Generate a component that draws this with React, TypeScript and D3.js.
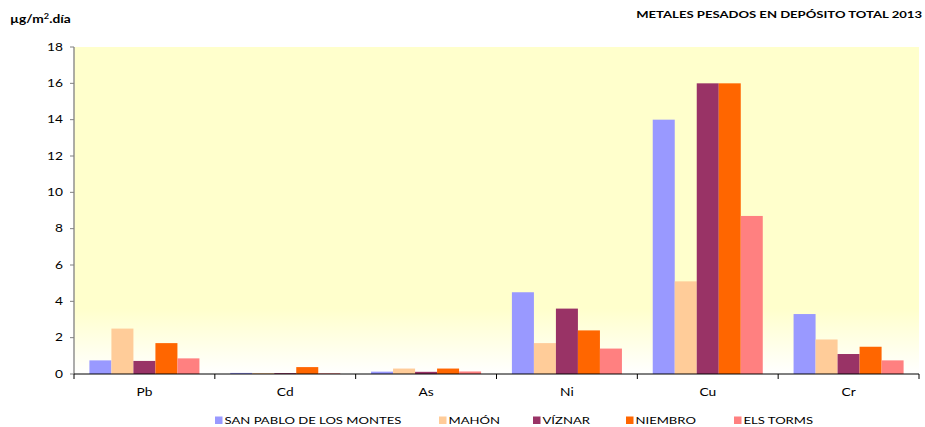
import React from "react";
import * as d3 from "d3";

const categories = ["Pb", "Cd", "As", "Ni", "Cu", "Cr"];
const seriesNames = ["SAN PABLO DE LOS MONTES", "MAHÓN", "VÍZNAR", "NIEMBRO", "ELS TORMS"];
const sanPablo = [0.75, 0.06, 0.13, 4.5, 14.0, 3.3];
const mahon = [2.5, 0.05, 0.3, 1.7, 5.1, 1.9];
const viznar = [0.72, 0.05, 0.12, 3.6, 16.0, 1.1];
const niembro = [1.7, 0.38, 0.3, 2.4, 16.0, 1.5];
const elsTorms = [0.86, 0.04, 0.14, 1.4, 8.7, 0.75];
const yTicks = [0, 2, 4, 6, 8, 10, 12, 14, 16, 18];
const colors = ["#9999FF", "#FFCC99", "#993366", "#FF6600", "#FF8080"];
const title = "METALES PESADOS EN DEPÓSITO TOTAL 2013";

const series = [sanPablo, mahon, viznar, niembro, elsTorms];

const W = 925;
const H = 427;
const left = 74;
const right = 919;
const top = 47;
const bottom = 374;
const font = "Lato, 'Open Sans', sans-serif";
const SX = 1.31;

type STextProps = {
  x: number;
  y: number;
  anchor?: "start" | "middle" | "end";
  size: number;
  bold?: boolean;
  dy?: string;
  children: React.ReactNode;
};

function SText({ x, y, anchor = "start", size, bold, dy, children }: STextProps) {
  return (
    <text
      transform={`translate(${x},${y}) scale(${SX},1)`}
      textAnchor={anchor}
      fontSize={size}
      fontWeight={bold ? "bold" : "normal"}
      dy={dy}
      fill="#000"
    >
      {children}
    </text>
  );
}

export default function App() {
  const x = d3.scaleBand<string>().domain(categories).range([left, right]).paddingInner(0).paddingOuter(0);
  const inner = d3
    .scaleBand<number>()
    .domain(series.map((_, i) => i))
    .range([0, x.bandwidth()])
    .paddingOuter(0.7)
    .paddingInner(0);
  const y = d3.scaleLinear().domain([0, 18]).range([bottom, top]);

  const legendX = [215, 439, 533, 626, 734];

  return (
    <svg width={W} height={H} style={{ position: "absolute", left: 0, top: 0, fontFamily: font }}>
      <defs>
        <linearGradient id="bg" x1="0" y1="0" x2="0" y2="1">
          <stop offset="0" stopColor="#FFFFCC" />
          <stop offset="0.8" stopColor="#FFFFCC" />
          <stop offset="1" stopColor="#FFFFFF" />
        </linearGradient>
      </defs>
      <rect x={0} y={0} width={W} height={H} fill="#fff" />
      <rect x={left} y={top} width={right - left} height={bottom - top} fill="url(#bg)" />

      <SText x={10} y={23} size={10.5} bold>
        µg/m<tspan fontSize={7} dy={-4}>2</tspan>
        <tspan dy={4}>.día</tspan>
      </SText>
      <SText x={922} y={18} anchor="end" size={10} bold>
        {title}
      </SText>

      {series.map((vals, si) =>
        vals.map((v, ci) => (
          <rect
            key={`${si}-${ci}`}
            x={(x(categories[ci]) as number) + (inner(si) as number)}
            y={y(v)}
            width={inner.bandwidth()}
            height={bottom - y(v)}
            fill={colors[si]}
          />
        ))
      )}

      {/* y axis */}
      <line x1={left} x2={left} y1={top} y2={bottom} stroke="#808080" strokeWidth={1.3} />
      {yTicks.map((t) => (
        <g key={t}>
          <line x1={left - 4} x2={left} y1={y(t)} y2={y(t)} stroke="#808080" />
          <SText x={left - 11} y={y(t)} dy="0.36em" anchor="end" size={10.5}>
            {t}
          </SText>
        </g>
      ))}

      {/* x axis */}
      <line x1={left} x2={right} y1={bottom} y2={bottom} stroke="#000" strokeWidth={1} />
      {categories.map((c, i) => (
        <line
          key={"t" + i}
          x1={x(c) as number}
          x2={x(c) as number}
          y1={bottom}
          y2={bottom + 5}
          stroke="#000"
        />
      ))}
      <line x1={right} x2={right} y1={bottom} y2={bottom + 5} stroke="#000" />
      {categories.map((c) => (
        <SText key={c} x={(x(c) as number) + x.bandwidth() / 2} y={396} anchor="middle" size={10.5}>
          {c}
        </SText>
      ))}

      {/* legend */}
      {seriesNames.map((n, i) => (
        <g key={n}>
          <rect x={legendX[i]} y={416.5} width={7.5} height={7.5} fill={colors[i]} />
          <SText x={legendX[i] + 9.5} y={424} size={10}>
            {n}
          </SText>
        </g>
      ))}
    </svg>
  );
}
